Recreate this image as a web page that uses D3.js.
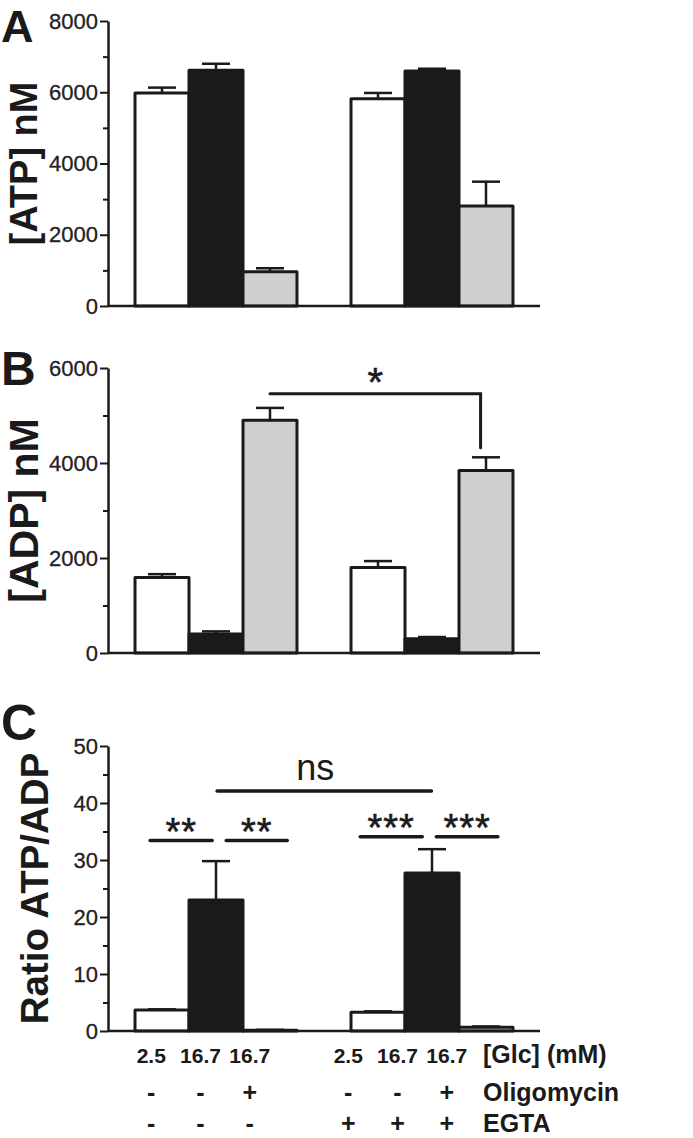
<!DOCTYPE html>
<html><head><meta charset="utf-8">
<script src="https://cdn.jsdelivr.net/npm/d3@7"></script>
<style>html,body{margin:0;padding:0;background:#fff;}svg{display:block;}</style>
</head><body>
<script>
// ---- data ----
const slots = [1, 2, 3, 5, 6, 7];            // bar slots (gap at 4)
const conditions = ["2.5 Glc", "16.7 Glc", "16.7 Glc + Oligomycin", "2.5 Glc + EGTA", "16.7 Glc + EGTA", "16.7 Glc + Oligo + EGTA"];
const fillIndex = [0, 1, 2, 0, 1, 2];
const fills = ["#ffffff", "#1a1a1a", "#cfcfcf"];

const atpMean = [5980, 6620, 963, 5820, 6600, 2810];
const atpErr  = [150, 180, 97, 160, 60, 680];
const adpMean = [1590, 400, 4900, 1800, 300, 3840];
const adpErr  = [70, 55, 260, 135, 37, 280];
const ratioMean = [3.7, 23.0, 0.15, 3.3, 27.7, 0.65];
const ratioErr  = [0.1, 6.8, 0.05, 0.15, 4.2, 0.15];

const atpTicks = [0, 2000, 4000, 6000, 8000];
const adpTicks = [0, 2000, 4000, 6000];
const ratioTicks = [0, 10, 20, 30, 40, 50];

const glcLabels = ["2.5", "16.7", "16.7", "2.5", "16.7", "16.7"];
const oligoLabels = ["-", "-", "+", "-", "-", "+"];
const egtaLabels = ["-", "-", "-", "+", "+", "+"];
const rowTitles = ["[Glc] (mM)", "Oligomycin", "EGTA"];

// significance annotations (x in slot units, y in data units)
const sigB = {from: 3, to: 6.9, y: 5460, drop: 4320, label: "*"};
const sigC = [
  {from: 0.78, to: 1.93, y: 33.4, label: "**"},
  {from: 2.19, to: 3.32, y: 33.4, label: "**"},
  {from: 4.67, to: 5.82, y: 34.1, label: "***"},
  {from: 6.08, to: 7.22, y: 34.1, label: "***"},
  {from: 2.02, to: 5.99, y: 42.1, label: "ns"}
];

// ---- layout ----
const W = 693, H = 1138;
const FONT = "'Liberation Sans', Arial, Helvetica, sans-serif";
const INK = "#1a1a1a";
const svg = d3.select("body").append("svg").attr("width", W).attr("height", H)
  .style("font-family", FONT);

const x = d3.scaleLinear().domain([0, 8]).range([108, 540]);
const bw = x(1) - x(0);

const panels = [
  {letter: "A", mean: atpMean, err: atpErr, ticks: atpTicks, minorStep: 1000, top: 21, bottom: 306,
   title: "[ATP] nM", titleSize: 38, titleX: 37, letterSize: 45, letterY: 42},
  {letter: "B", mean: adpMean, err: adpErr, ticks: adpTicks, minorStep: 1000, top: 368, bottom: 653,
   title: "[ADP] nM", titleSize: 41, titleX: 38, letterSize: 48, letterY: 385},
  {letter: "C", mean: ratioMean, err: ratioErr, ticks: ratioTicks, minorStep: 5, top: 746, bottom: 1031,
   title: "Ratio ATP/ADP", titleSize: 38.5, titleX: 48, letterSize: 50, letterY: 740}
];

panels.forEach(p => {
  const yMax = d3.max(p.ticks);
  const y = d3.scaleLinear().domain([0, yMax]).range([p.bottom, p.top]);
  p.y = y;
  const g = svg.append("g");

  const minor = d3.range(0, yMax + 1e-9, p.minorStep).filter(v => !p.ticks.includes(v));
  g.append("g").attr("transform", `translate(${x(0)},0)`)
    .call(d3.axisLeft(y).tickValues(minor).tickSize(5).tickSizeOuter(0).tickFormat(""))
    .call(a => a.select(".domain").remove())
    .call(a => a.selectAll("line").attr("stroke", INK).attr("stroke-width", 2));

  const ax = g.append("g").attr("transform", `translate(${x(0)},0)`)
    .call(d3.axisLeft(y).tickValues(p.ticks).tickSize(8).tickSizeOuter(0).tickPadding(2).tickFormat(d3.format("d")));
  ax.select(".domain").attr("stroke", INK).attr("stroke-width", 2.5);
  ax.selectAll("line").attr("stroke", INK).attr("stroke-width", 2);
  ax.selectAll("text").attr("font-size", 22).attr("fill", "#222").attr("font-family", FONT)
    .attr("stroke", "#222").attr("stroke-width", 0.3);

  g.selectAll("rect.bar").data(p.mean).join("rect")
    .attr("class", "bar")
    .attr("x", (d, i) => x(slots[i] - 0.5))
    .attr("width", bw)
    .attr("y", d => y(d))
    .attr("height", d => y(0) - y(d))
    .attr("fill", (d, i) => fills[fillIndex[i]])
    .attr("stroke", INK).attr("stroke-width", 3)
    .attr("stroke-linejoin", "round");

  const eb = g.selectAll("g.err").data(p.mean).join("g").attr("class", "err");
  eb.append("line")
    .attr("x1", (d, i) => x(slots[i])).attr("x2", (d, i) => x(slots[i]))
    .attr("y1", d => y(d)).attr("y2", (d, i) => y(d + p.err[i]))
    .attr("stroke", INK).attr("stroke-width", 2.5);
  eb.append("line")
    .attr("x1", (d, i) => x(slots[i]) - 14).attr("x2", (d, i) => x(slots[i]) + 14)
    .attr("y1", (d, i) => y(d + p.err[i])).attr("y2", (d, i) => y(d + p.err[i]))
    .attr("stroke", INK).attr("stroke-width", 2.5);

  g.append("line").attr("x1", x(0)).attr("x2", x(8)).attr("y1", y(0)).attr("y2", y(0))
    .attr("stroke", INK).attr("stroke-width", 2.5);

  g.append("text")
    .attr("transform", `translate(${p.titleX},${(p.top + p.bottom) / 2})) rotate(-90)`.replace("))", ")"))
    .attr("text-anchor", "middle")
    .attr("font-size", p.titleSize).attr("font-weight", "bold").attr("fill", INK)
    .text(p.title);

  g.append("text").attr("x", 1).attr("y", p.letterY)
    .attr("font-size", p.letterSize).attr("font-weight", "bold").attr("fill", INK)
    .text(p.letter);
});

// panel B significance bracket
{
  const y = panels[1].y;
  svg.append("path")
    .attr("d", `M${x(sigB.from)},${y(sigB.y)}H${x(sigB.to)}V${y(sigB.drop)}`)
    .attr("fill", "none").attr("stroke", INK).attr("stroke-width", 3).attr("stroke-linecap", "round");
  svg.append("text").attr("x", (x(sigB.from) + x(sigB.to)) / 2).attr("y", y(sigB.y) - 20 + 0.57 * 40)
    .attr("text-anchor", "middle").attr("font-size", 40).attr("fill", INK)
    .attr("stroke", INK).attr("stroke-width", 0.6).text(sigB.label);
}
// panel C significance lines
{
  const y = panels[2].y;
  sigC.forEach(s => {
    svg.append("line").attr("x1", x(s.from)).attr("x2", x(s.to)).attr("y1", y(s.y)).attr("y2", y(s.y))
      .attr("stroke", INK).attr("stroke-width", 3.5).attr("stroke-linecap", "round");
    if (s.label === "ns") {
      svg.append("text").attr("x", (x(s.from) + x(s.to)) / 2 - 9).attr("y", y(s.y) - 11)
        .attr("text-anchor", "middle").attr("font-size", 36).attr("fill", INK).text(s.label);
    } else {
      svg.append("text").attr("x", (x(s.from) + x(s.to)) / 2).attr("y", y(s.y) - 17 + 0.57 * 38)
        .attr("text-anchor", "middle").attr("font-size", 38).attr("fill", INK)
        .attr("letter-spacing", 1).attr("stroke", INK).attr("stroke-width", 0.6).text(s.label);
    }
  });
}

// bottom condition table
const xl = d3.scaleLinear().domain([0, 8]).range([102, 496]);
const rows = [
  {labels: glcLabels, y: 1063, size: 21},
  {labels: oligoLabels, y: 1101, size: 25},
  {labels: egtaLabels, y: 1132, size: 25}
];
rows.forEach((r, ri) => {
  svg.append("g").selectAll("text").data(r.labels).join("text")
    .attr("x", (d, i) => xl(slots[i]))
    .attr("y", r.y)
    .attr("text-anchor", "middle")
    .attr("font-size", r.size).attr("font-weight", "bold").attr("fill", INK)
    .text(d => d);
  svg.append("text").attr("x", 483).attr("y", r.y)
    .attr("font-size", 25).attr("font-weight", "bold").attr("fill", INK)
    .text(rowTitles[ri]);
});
</script>
</body></html>
